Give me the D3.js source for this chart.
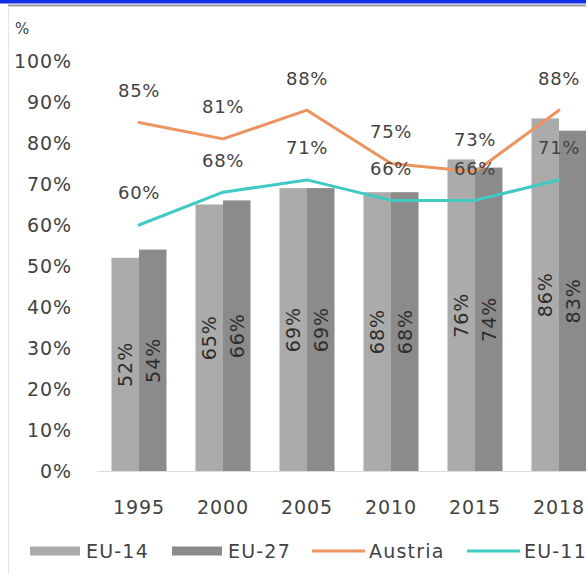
<!DOCTYPE html>
<html>
<head>
<meta charset="utf-8">
<script src="https://cdn.jsdelivr.net/npm/d3@7"></script>
<style>
  html, body { margin: 0; padding: 0; background: #fff; overflow: hidden; }
  svg { display: block; font-family: "DejaVu Sans", sans-serif; }
</style>
</head>
<body>
<svg id="chart" width="586" height="574"></svg>
<script>
// ---- data ----
const years = ["1995", "2000", "2005", "2010", "2015", "2018"];
const barSeries = ["EU-14", "EU-27"];
const eu14 = [0.52, 0.65, 0.69, 0.68, 0.76, 0.86];
const eu27 = [0.54, 0.66, 0.69, 0.68, 0.74, 0.83];
const austria = [0.85, 0.81, 0.88, 0.75, 0.73, 0.88];
const eu11 = [0.60, 0.68, 0.71, 0.66, 0.66, 0.71];
const yTicks = [0, 0.1, 0.2, 0.3, 0.4, 0.5, 0.6, 0.7, 0.8, 0.9, 1.0];
const legendItems = ["EU-14", "EU-27", "Austria", "EU-11"];

const barColors = { "EU-14": "#ababab", "EU-27": "#8b8b8b" };
const lineColors = { "Austria": "#ec9461", "EU-11": "#3fcac4" };
const textColor = "#434343";

const svg = d3.select("#chart");

// frame decoration
svg.append("rect").attr("x", 0).attr("y", 0).attr("width", 586).attr("height", 3.5).attr("fill", "#1030e6");
svg.append("rect").attr("x", 8).attr("y", 4.5).attr("width", 600).attr("height", 2).attr("fill", "#9a9a9a");
svg.append("line").attr("x1", 8.5).attr("x2", 8.5).attr("y1", 6).attr("y2", 574).attr("stroke", "#e6e6e6");

// scales
const x0 = d3.scaleBand().domain(years).range([97, 601]).paddingInner(0.345).paddingOuter(0.1725);
const x1 = d3.scaleBand().domain(barSeries).range([0, x0.bandwidth()]);
const y = d3.scaleLinear().domain([0, 1]).range([471, 61]);

// y axis
const yAxis = d3.axisLeft(y).tickValues(yTicks).tickFormat(d3.format(".0%")).tickSize(0).tickPadding(0);
const gy = svg.append("g").attr("transform", "translate(72,0)").call(yAxis);
gy.select(".domain").remove();
gy.selectAll("text").attr("fill", textColor).style("font-size", "19px")
  .style("letter-spacing", "0.9px").style("font-family", "DejaVu Sans");

svg.append("text").attr("x", 15).attr("y", 34).attr("fill", textColor).style("font-size", "15px").text("%");

// baseline
svg.append("line").attr("x1", 97).attr("x2", 601).attr("y1", y(0) + 0.5).attr("y2", y(0) + 0.5).attr("stroke", "#dcdcdc");

// bars
const barData = years.map((yr, i) => ({ yr, vals: [{ s: "EU-14", v: eu14[i] }, { s: "EU-27", v: eu27[i] }] }));
const groups = svg.append("g").selectAll("g").data(barData).join("g")
  .attr("transform", d => `translate(${x0(d.yr)},0)`);
groups.selectAll("rect").data(d => d.vals).join("rect")
  .attr("x", d => x1(d.s))
  .attr("width", x1.bandwidth())
  .attr("y", d => y(d.v))
  .attr("height", d => y(0) - y(d.v))
  .attr("fill", d => barColors[d.s]);
groups.selectAll("text").data(d => d.vals).join("text")
  .attr("transform", d => `translate(${x1(d.s) + x1.bandwidth() / 2},${(y(d.v) + y(0)) / 2}) rotate(-90)`)
  .attr("text-anchor", "middle")
  .attr("dy", "0.36em")
  .attr("fill", "#2e2e2e")
  .style("font-size", "19px")
  .style("letter-spacing", "1px")
  .text(d => d3.format(".0%")(d.v));

// lines
const cx = d => x0(d) + x0.bandwidth() / 2;
const lineGen = d3.line().x((d, i) => cx(years[i])).y(d => y(d));
[["EU-11", eu11], ["Austria", austria]].forEach(([name, vals]) => {
  svg.append("path").datum(vals).attr("d", lineGen)
    .attr("fill", "none").attr("stroke", lineColors[name]).attr("stroke-width", 3)
    .attr("stroke-linejoin", "round").attr("stroke-linecap", "round");
});
[["Austria", austria], ["EU-11", eu11]].forEach(([name, vals]) => {
  svg.append("g").selectAll("text").data(vals).join("text")
    .attr("x", (d, i) => cx(years[i]))
    .attr("y", d => y(d) - 32)
    .attr("dy", "0.36em")
    .attr("text-anchor", "middle")
    .attr("fill", textColor)
    .style("font-size", "18px")
    .style("letter-spacing", "0.6px")
    .text(d => d3.format(".0%")(d));
});

// x axis labels
const xAxis = d3.axisBottom(x0).tickSize(0).tickPadding(0);
const gx = svg.append("g").attr("transform", "translate(0,507)").call(xAxis);
gx.select(".domain").remove();
gx.selectAll("text").attr("dy", "0.36em").attr("fill", textColor).style("font-size", "19px")
  .style("letter-spacing", "0.9px").style("font-family", "DejaVu Sans");

// legend
const legendX = [30, 172, 312, 467];
const lg = svg.append("g").selectAll("g").data(legendItems).join("g")
  .attr("transform", (d, i) => `translate(${legendX[i]},551)`);
lg.each(function (d) {
  const g = d3.select(this);
  if (barColors[d]) {
    g.append("rect").attr("x", 0).attr("y", -4.5).attr("width", 50).attr("height", 9).attr("fill", barColors[d]);
  } else {
    g.append("line").attr("x1", 0).attr("x2", 53).attr("y1", 0).attr("y2", 0)
      .attr("stroke", lineColors[d]).attr("stroke-width", 3);
  }
  g.append("text").attr("x", barColors[d] ? 56 : 57).attr("dy", "0.36em")
    .attr("fill", textColor).style("font-size", "19px").style("letter-spacing", "1.2px").text(d);
});
</script>
</body>
</html>
